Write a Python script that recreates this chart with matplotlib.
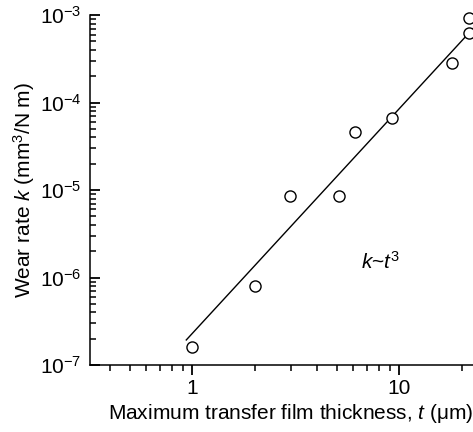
import matplotlib
matplotlib.use("Agg")
import matplotlib.pyplot as plt
from matplotlib.ticker import LogLocator, NullFormatter
import numpy as np

plt.rcParams['font.family'] = ['Liberation Sans', 'DejaVu Sans']
plt.rcParams['mathtext.fontset'] = 'custom'
plt.rcParams['mathtext.rm'] = 'Liberation Sans'
plt.rcParams['mathtext.it'] = 'Liberation Sans:italic'
plt.rcParams['mathtext.bf'] = 'Liberation Sans:bold'

# measured transfer film thickness (um) and wear rate (mm^3/N m)
thickness = [1.0, 2.0, 2.97, 5.1, 6.1, 9.25, 18.0, 21.8, 21.8]
wear_rate = [1.6e-7, 8.0e-7, 8.5e-6, 8.5e-6, 4.6e-5, 6.6e-5, 2.85e-4, 6.2e-4, 9.2e-4]

# power-law trend line k = A * t^n
fit_prefactor = 2.3e-7
fit_exponent = 2.57
fit_range = [0.935, 30.0]

fig = plt.figure(figsize=(4.73, 4.32), dpi=100)
ax = fig.add_axes([0.190, 0.155, 0.85, 0.810])

t_line = np.array(fit_range)
ax.plot(t_line, fit_prefactor * t_line ** fit_exponent, color='black', lw=1.0)
ax.plot(thickness, wear_rate, 'o', ms=8, mfc='white', mec='black', mew=1.0,
        clip_on=False, zorder=3)

ax.set_xscale('log')
ax.set_yscale('log')
ax.set_xlim(0.32, 28)
ax.set_ylim(1e-7, 1e-3)

ax.spines['top'].set_visible(False)
ax.spines['right'].set_visible(False)
for s in ['left', 'bottom']:
    ax.spines[s].set_linewidth(1.1)

ax.yaxis.set_minor_locator(LogLocator(base=10, subs=np.arange(2, 10)))
ax.yaxis.set_minor_formatter(NullFormatter())
ax.xaxis.set_minor_locator(LogLocator(base=10, subs=np.arange(2, 10)))
ax.xaxis.set_minor_formatter(NullFormatter())

ax.tick_params(axis='y', which='major', direction='in', length=7, width=1.3,
               labelsize=15, pad=6)
ax.tick_params(axis='y', which='minor', direction='in', length=4.5, width=1.1)
ax.tick_params(axis='x', which='major', direction='out', length=7, width=1.3,
               labelsize=15, pad=3)
ax.tick_params(axis='x', which='minor', direction='out', length=4, width=1.1)
ax.yaxis.set_ticks_position('left')
ax.xaxis.set_ticks_position('bottom')

ax.set_xticks([1, 10])
ax.set_xticklabels(['1', '10'])

ax.set_xlabel(r'Maximum transfer film thickness, $t$ ($\mathrm{\mu}$m)', fontsize=15,
              labelpad=3)
ax.set_ylabel(r'Wear rate $k$ (mm$^3$/N m)', fontsize=15, labelpad=2)

ax.text(8.1, 1.5e-6, r'$k$~$t^3$', fontsize=15, ha='center', va='center')

fig.savefig('out.png', dpi=100)
